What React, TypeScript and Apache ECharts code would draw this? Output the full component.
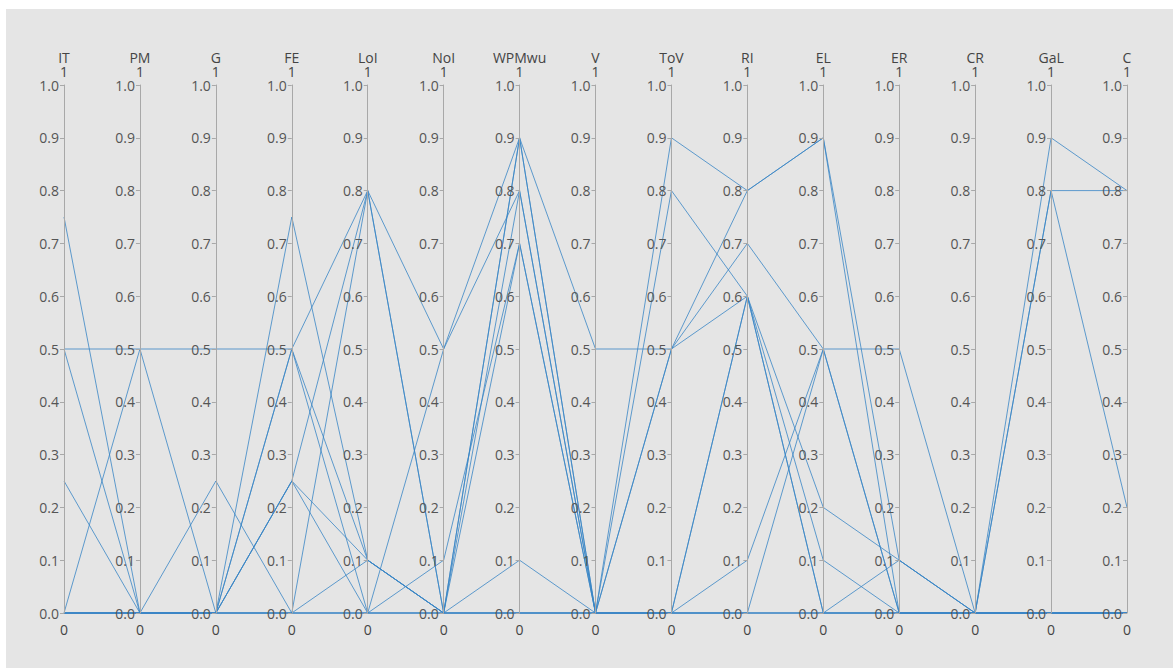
import React, { useEffect, useRef } from "react";
import * as echarts from "echarts";

const dimensions = ["IT", "PM", "G", "FE", "LoI", "NoI", "WPMwu", "V", "ToV", "RI", "EL", "ER", "CR", "GaL", "C"];
const maxLabels = ["1", "1", "1", "1", "1", "1", "1", "1", "1", "1", "1", "1", "1", "1", "1"];
const minLabels = ["0", "0", "0", "0", "0", "0", "0", "0", "0", "0", "0", "0", "0", "0", "0"];

// each row: IT, PM, G, FE, LoI, NoI, WPMwu, V, ToV, RI, EL, ER, CR, GaL, C
const row1 = [0.5, 0.5, 0.5, 0.5, 0.8, 0.5, 0.9, 0.5, 0.5, 0.8, 0.9, 0, 0, 0.9, 0.8];
const row2 = [0, 0.5, 0, 0.75, 0.1, 0, 0.9, 0, 0.9, 0.8, 0.9, 0.1, 0, 0.8, 0.8];
const row3 = [0.75, 0, 0, 0.5, 0.1, 0, 0.8, 0, 0.8, 0.6, 0.2, 0.1, 0, 0.8, 0.2];
const row4 = [0.5, 0, 0, 0.5, 0, 0.5, 0.8, 0, 0.5, 0.7, 0.5, 0.5, 0, 0, 0];
const row5 = [0.25, 0, 0.25, 0, 0.8, 0, 0.7, 0, 0.5, 0.6, 0.1, 0, 0, 0, 0];
const row6 = [0, 0, 0, 0.25, 0.8, 0, 0.9, 0, 0, 0.6, 0, 0, 0, 0, 0];
const row7 = [0, 0, 0, 0.25, 0.1, 0, 0.1, 0, 0, 0.1, 0.5, 0, 0, 0, 0];
const row8 = [0, 0, 0, 0.25, 0, 0.1, 0.7, 0, 0, 0, 0.5, 0, 0, 0, 0];
const row9 = [0, 0, 0, 0, 0.1, 0, 0, 0, 0, 0, 0, 0.1, 0, 0, 0];
const row10 = [0, 0, 0, 0, 0, 0, 0, 0, 0, 0.6, 0, 0, 0, 0, 0];
const row11 = [0, 0, 0, 0, 0, 0, 0, 0, 0, 0, 0, 0, 0, 0, 0];
const row12 = [0, 0, 0, 0, 0, 0, 0, 0, 0, 0, 0, 0, 0, 0, 0];

const rows = [row1, row2, row3, row4, row5, row6, row7, row8, row9, row10, row11, row12];

const W = 1167;
const H = 659;
const LEFT = 58;
const RIGHT = 46;
const TOP = 76;
const BOTTOM = 55;
const FONT = "'Open Sans', sans-serif";

export default function App() {
  const ref = useRef<HTMLDivElement>(null);
  useEffect(() => {
    if (!ref.current) return;
    const chart = echarts.init(ref.current, undefined, { renderer: "svg" });
    const n = dimensions.length;
    const step = (W - LEFT - RIGHT) / (n - 1);
    const parallelAxis = dimensions.map((d, i) => ({
      dim: i,
      name: d + "\n" + maxLabels[i],
      nameLocation: "end",
      nameGap: 6,
      nameTextStyle: {
        color: "#444",
        fontSize: 14,
        fontFamily: FONT,
        lineHeight: 14,
        verticalAlign: "bottom",
        align: "center",
      },
      type: "value",
      min: 0,
      max: 1,
      interval: 0.1,
      axisLine: { lineStyle: { color: "#a8a8a8", width: 1 } },
      axisTick: { show: true, length: -4, lineStyle: { color: "#a8a8a8" } },
      axisLabel: {
        color: "#555",
        fontSize: 14,
        fontFamily: FONT,
        margin: -5,
        align: "right",
        formatter: (v: number) => v.toFixed(1),
      },
      splitLine: { show: false },
    }));
    const graphic = minLabels.map((t, i) => ({
      type: "text",
      x: LEFT + i * step,
      y: H - BOTTOM + 16,
      style: {
        text: t,
        fill: "#444",
        font: "14px " + FONT,
        align: "center",
        verticalAlign: "middle",
      },
      silent: true,
    }));
    chart.setOption({
      animation: false,
      backgroundColor: "#e5e5e5",
      parallel: {
        left: LEFT,
        right: RIGHT,
        top: TOP,
        bottom: BOTTOM,
        layout: "horizontal",
      },
      parallelAxis,
      graphic,
      series: [
        {
          type: "parallel",
          silent: true,
          smooth: false,
          lineStyle: { color: "#3a86c6", width: 1, opacity: 0.8 },
          data: rows,
        },
      ],
    });
    return () => chart.dispose();
  }, []);
  return (
    <div
      ref={ref}
      style={{ position: "absolute", left: 6, top: 9, width: W, height: H }}
    />
  );
}
